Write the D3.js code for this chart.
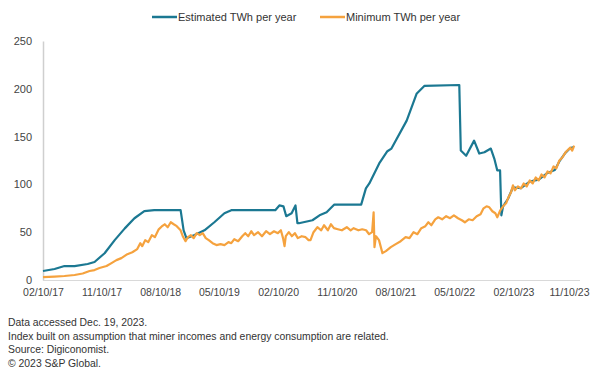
<!DOCTYPE html>
<html>
<head>
<meta charset="utf-8">
<script src="https://cdn.jsdelivr.net/npm/d3@7"></script>
<style>
  html, body { margin: 0; padding: 0; background: #fff; }
  svg { display: block; font-family: "Liberation Sans", Arial, sans-serif; }
</style>
</head>
<body>
<svg id="chart" width="590" height="369"></svg>
<script>
// Bitcoin network energy use, TWh per year
const estimatedSeries = [
  ["2017-02-10", 9.4], ["2017-04-05", 11.5], ["2017-05-21", 14.6], ["2017-07-07", 14.6],
  ["2017-09-06", 16.7], ["2017-10-08", 18.8], ["2017-11-24", 28], ["2018-01-10", 41.7],
  ["2018-02-26", 54], ["2018-04-12", 64.6], ["2018-05-28", 72], ["2018-07-13", 73],
  ["2018-11-13", 73], ["2018-11-27", 52], ["2018-12-10", 43.7], ["2019-01-17", 47],
  ["2019-03-04", 52], ["2019-04-19", 60.4], ["2019-06-05", 69.8], ["2019-07-07", 73],
  ["2020-01-28", 73], ["2020-02-16", 78], ["2020-03-06", 77], ["2020-03-19", 66.7],
  ["2020-04-13", 69.8], ["2020-05-01", 78], ["2020-05-10", 59.4], ["2020-05-17", 59.4],
  ["2020-07-19", 62.5], ["2020-08-21", 67.7], ["2020-09-23", 70.8], ["2020-10-29", 78.9],
  ["2021-03-03", 78.9], ["2021-03-25", 95.8], ["2021-04-10", 101], ["2021-05-26", 121.9],
  ["2021-07-03", 134.7], ["2021-07-22", 137.5], ["2021-10-01", 166.7], ["2021-11-16", 194.8],
  ["2021-12-22", 203], ["2022-06-03", 204], ["2022-06-10", 135.4], ["2022-07-05", 130],
  ["2022-08-11", 145.8], ["2022-09-04", 132.3], ["2022-09-28", 133.6], ["2022-10-28", 137.5],
  ["2022-11-13", 127], ["2022-11-27", 114.6], ["2022-12-10", 114.6], ["2022-12-16", 67.7],
  ["2022-12-24", 77], ["2023-01-16", 85], ["2023-02-08", 97], ["2023-03-17", 96],
  ["2023-04-27", 103], ["2023-06-08", 105], ["2023-07-19", 112], ["2023-08-22", 115],
  ["2023-09-12", 124], ["2023-10-10", 133], ["2023-11-02", 138], ["2023-11-19", 139]
];

const minimumSeries = [
  ["2017-02-10", 3.1], ["2017-04-05", 3.6], ["2017-05-21", 4.2], ["2017-07-07", 5.2],
  ["2017-08-14", 6.8], ["2017-09-15", 9.4], ["2017-10-08", 10.4], ["2017-10-31", 12.5],
  ["2017-12-03", 14.6], ["2017-12-26", 17.7], ["2018-01-18", 20.8], ["2018-02-10", 22.9],
  ["2018-03-10", 27], ["2018-04-02", 29], ["2018-04-25", 32.3], ["2018-05-09", 38.5],
  ["2018-05-18", 35.4], ["2018-06-01", 41.7], ["2018-06-15", 39.6], ["2018-07-02", 46.9],
  ["2018-07-16", 44.8], ["2018-08-03", 53], ["2018-08-17", 56], ["2018-08-31", 58.3],
  ["2018-09-14", 55.2], ["2018-09-28", 60.4], ["2018-10-12", 58.3], ["2018-10-26", 56.3],
  ["2018-11-13", 52], ["2018-11-23", 45.8], ["2018-12-06", 40.6], ["2018-12-17", 44.8],
  ["2018-12-31", 46.9], ["2019-01-13", 43.8], ["2019-01-27", 49], ["2019-02-10", 46.9],
  ["2019-02-24", 49], ["2019-03-10", 43.8], ["2019-03-24", 41.7], ["2019-04-11", 38.5],
  ["2019-04-29", 36.5], ["2019-05-18", 37.5], ["2019-06-05", 36.5], ["2019-06-24", 39.6],
  ["2019-07-07", 38.5], ["2019-07-21", 42.7], ["2019-08-08", 40.6], ["2019-08-27", 45.8],
  ["2019-09-10", 49], ["2019-09-24", 45.8], ["2019-10-08", 51], ["2019-10-21", 46.9],
  ["2019-11-09", 50], ["2019-11-27", 45.8], ["2019-12-16", 51], ["2020-01-03", 47.9],
  ["2020-01-22", 51], ["2020-02-09", 49], ["2020-02-23", 52], ["2020-03-04", 43.8],
  ["2020-03-11", 35.4], ["2020-03-17", 45.8], ["2020-03-31", 50], ["2020-04-14", 45.8],
  ["2020-04-28", 49], ["2020-05-12", 43.8], ["2020-05-30", 45.8], ["2020-06-17", 44.8],
  ["2020-07-01", 41.7], ["2020-07-10", 41.7], ["2020-07-24", 50], ["2020-08-11", 55.2],
  ["2020-08-29", 52], ["2020-09-11", 57.3], ["2020-09-29", 52], ["2020-10-13", 58.3],
  ["2020-10-27", 54.2], ["2020-11-14", 53.1], ["2020-12-03", 52], ["2020-12-26", 55.2],
  ["2021-01-13", 52], ["2021-01-27", 54.2], ["2021-02-18", 52], ["2021-03-08", 53.1],
  ["2021-03-26", 52], ["2021-04-09", 47.9], ["2021-04-23", 50], ["2021-04-30", 70.8],
  ["2021-05-04", 34.4], ["2021-05-11", 45.8], ["2021-05-25", 41.7], ["2021-06-10", 28.1],
  ["2021-06-26", 30.2], ["2021-07-19", 34.4], ["2021-08-11", 37.5], ["2021-09-03", 40.6],
  ["2021-09-26", 44.8], ["2021-10-14", 43.8], ["2021-11-02", 50], ["2021-11-20", 47.9],
  ["2021-12-08", 54.2], ["2021-12-27", 56.3], ["2022-01-10", 60.4], ["2022-01-24", 57.3],
  ["2022-02-11", 63.5], ["2022-02-25", 65.6], ["2022-03-15", 63.5], ["2022-04-03", 66.7],
  ["2022-04-21", 64.6], ["2022-05-09", 67.7], ["2022-05-28", 64.6], ["2022-06-15", 62.5],
  ["2022-06-29", 60.4], ["2022-07-17", 63.5], ["2022-08-04", 62.5], ["2022-08-23", 66.7],
  ["2022-09-10", 68.8], ["2022-09-24", 75], ["2022-10-08", 77.1], ["2022-10-21", 76],
  ["2022-11-04", 71.9], ["2022-11-18", 69.8], ["2022-11-27", 65.6], ["2022-12-11", 72.9],
  ["2022-12-24", 77.1], ["2023-01-07", 80.2], ["2023-01-16", 85.4], ["2023-01-30", 91.7],
  ["2023-02-08", 99], ["2023-02-17", 93.8], ["2023-03-03", 97.9], ["2023-03-17", 95.8],
  ["2023-03-30", 101], ["2023-04-13", 97.9], ["2023-04-27", 104.2], ["2023-05-11", 101],
  ["2023-05-25", 107.3], ["2023-06-08", 104.2], ["2023-06-21", 110.4], ["2023-07-05", 107.3],
  ["2023-07-19", 113.5], ["2023-08-02", 111.5], ["2023-08-16", 118.8], ["2023-08-29", 116.7],
  ["2023-09-12", 125], ["2023-09-26", 128.1], ["2023-10-10", 133.3], ["2023-10-24", 136.5],
  ["2023-11-02", 138.5], ["2023-11-11", 135.4], ["2023-11-20", 140.6]
];

const xTickLabels = ["2017-02-10", "2017-11-10", "2018-08-10", "2019-05-10", "2020-02-10",
                     "2020-11-10", "2021-08-10", "2022-05-10", "2023-02-10", "2023-11-10"];
const yTickValues = [0, 50, 100, 150, 200, 250];
const seriesNames = ["Estimated TWh per year", "Minimum TWh per year"];
const seriesColors = ["#1b7892", "#f5a23e"];
const footnotes = [
  "Data accessed Dec. 19, 2023.",
  "Index built on assumption that miner incomes and energy consumption are related.",
  "Source: Digiconomist.",
  "\u00a9 2023 S&P Global."
];

const parse = d3.utcParse("%Y-%m-%d");
const toPoints = arr => arr.map(([d, v]) => ({ date: parse(d), value: v }));

const svg = d3.select("#chart");
const plot = { left: 43, right: 580, top: 41, bottom: 280 };

const x = d3.scaleUtc()
  .domain([parse(xTickLabels[0]), parse(xTickLabels[xTickLabels.length - 1])])
  .range([43, 572]);
const y = d3.scaleLinear().domain([0, 250]).range([plot.bottom, plot.top]);

// Y axis
const yAxis = svg.append("g")
  .attr("transform", `translate(${plot.left},0)`)
  .call(d3.axisLeft(y).tickValues(yTickValues).tickSize(0).tickPadding(11));
yAxis.select(".domain").attr("stroke", "#cfcfcf").attr("stroke-width", 1.5);
yAxis.selectAll("text").attr("font-size", 11).attr("fill", "#444")
  .attr("font-family", "'Liberation Sans', Arial, sans-serif");

// X axis
const xAxis = svg.append("g")
  .attr("transform", `translate(0,${plot.bottom})`)
  .call(d3.axisBottom(x).tickValues(xTickLabels.map(parse))
    .tickFormat(d3.utcFormat("%m/%d/%y")).tickSize(0).tickPadding(9));
xAxis.select(".domain").attr("d", `M${plot.left},0.5H${plot.right}`)
  .attr("stroke", "#d9d9d9").attr("stroke-width", 1.2);
xAxis.selectAll("text").attr("font-size", 10.5).attr("fill", "#444")
  .attr("font-family", "'Liberation Sans', Arial, sans-serif");
// keep the last date label inside the right edge
xAxis.selectAll(".tick:last-of-type text").attr("dx", -3);

// Lines
const line = d3.line().x(d => x(d.date)).y(d => y(d.value));
[estimatedSeries, minimumSeries].forEach((s, i) => {
  svg.append("path")
    .datum(toPoints(s))
    .attr("fill", "none")
    .attr("stroke", seriesColors[i])
    .attr("stroke-width", 2.2)
    .attr("stroke-linejoin", "round")
    .attr("d", line);
});

// Legend
const legendX = [152, 320];
seriesNames.forEach((name, i) => {
  const g = svg.append("g").attr("transform", `translate(${legendX[i]},17)`);
  g.append("line").attr("x1", 0).attr("x2", 25).attr("y1", 0).attr("y2", 0)
    .attr("stroke", seriesColors[i]).attr("stroke-width", 2.5);
  g.append("text").attr("x", 26).attr("y", 4).attr("font-size", 11)
    .attr("fill", "#333").text(name);
});

// Footnotes
svg.append("g").selectAll("text").data(footnotes).join("text")
  .attr("x", 8).attr("y", (d, i) => 326 + i * 13.5)
  .attr("font-size", 10.4).attr("fill", "#333").text(d => d);
</script>
</body>
</html>
